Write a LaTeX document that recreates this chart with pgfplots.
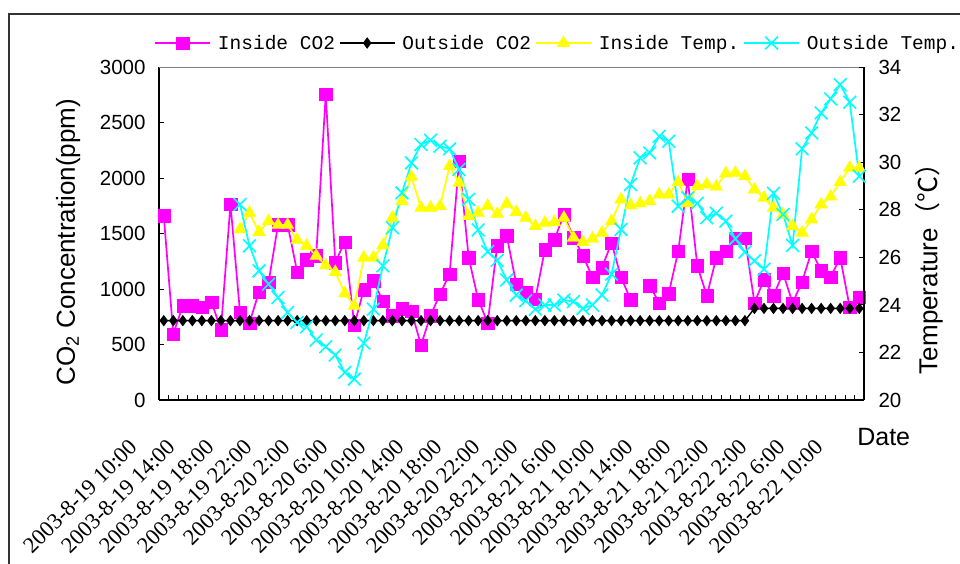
\documentclass[border=0pt]{standalone}
\usepackage{fontspec}
\setmainfont{Liberation Sans}
\newfontfamily\cjk{Noto Sans CJK SC}
\newfontfamily\legfont{Liberation Mono}
\newfontfamily\seriffont{Liberation Serif}
\usepackage{pgfplots}
\pgfplotsset{compat=1.18}
\usepackage{pgfplotstable}

\definecolor{mag}{RGB}{255,0,255}
\definecolor{yel}{RGB}{255,255,0}
\definecolor{cya}{RGB}{0,255,255}

\pgfplotstableread{
x y
0 1660
1 595
2 850
3 850
4 835
5 885
6 635
7 1765
8 790
9 695
10 975
11 1060
12 1580
13 1580
14 1155
15 1265
16 1300
17 2755
18 1240
19 1425
20 675
21 995
22 1075
23 890
24 760
25 825
26 800
27 495
28 760
29 955
30 1135
31 2150
32 1285
33 905
34 695
35 1390
36 1480
37 1045
38 975
39 910
40 1355
41 1445
42 1670
43 1465
44 1300
45 1105
46 1195
47 1415
48 1105
49 905
50 nan
51 1030
52 875
53 960
54 1340
55 1990
56 1210
57 940
58 1285
59 1340
60 1460
61 1460
62 875
63 1085
64 940
65 1145
66 875
67 1065
68 1340
69 1165
70 1105
71 1285
72 835
73 925
}\insideco

\pgfplotstableread{
x y
0 715
1 715
2 715
3 715
4 715
5 715
6 715
7 715
8 715
9 715
10 715
11 715
12 715
13 715
14 715
15 715
16 715
17 715
18 715
19 715
20 715
21 715
22 715
23 715
24 715
25 715
26 715
27 715
28 715
29 715
30 715
31 715
32 715
33 715
34 715
35 715
36 715
37 715
38 715
39 715
40 715
41 715
42 715
43 715
44 715
45 715
46 715
47 715
48 715
49 715
50 715
51 715
52 715
53 715
54 715
55 715
56 715
57 715
58 715
59 715
60 715
61 715
62 825
63 825
64 825
65 825
66 825
67 825
68 825
69 825
70 825
71 825
72 825
73 825
}\outsideco

\pgfplotstableread{
x y
8 27.17
9 27.87
10 27.06
11 27.52
12 27.36
13 27.36
14 26.73
15 26.48
16 26.06
17 25.66
18 25.38
19 24.48
20 23.96
21 25.99
22 25.99
23 26.50
24 27.66
25 28.36
26 29.38
27 28.08
28 28.08
29 28.15
30 29.83
31 29.13
32 27.73
33 27.87
34 28.16
35 27.82
36 28.25
37 27.90
38 27.66
39 27.31
40 27.45
41 27.48
42 27.66
43 26.83
44 26.64
45 26.78
46 27.03
47 27.52
48 28.43
49 28.18
50 28.27
51 28.36
52 28.64
53 28.64
54 29.16
55 28.27
56 28.99
57 29.06
58 28.97
59 29.52
60 29.55
61 29.41
62 28.85
63 28.50
64 28.08
65 27.80
66 27.31
67 27.03
68 27.59
69 28.22
70 28.55
71 29.16
72 29.76
73 29.76
}\insidetemp

\pgfplotstableread{
x y
8 28.22
9 26.48
10 25.43
11 24.87
12 24.31
13 23.68
14 23.26
15 23.08
16 22.52
17 22.24
18 21.89
19 21.16
20 20.88
21 22.39
22 23.82
23 25.64
24 27.24
25 28.71
26 29.97
27 30.74
28 30.92
29 30.67
30 30.56
31 29.69
32 28.43
33 27.15
34 26.24
35 25.87
36 25.05
37 24.41
38 24.17
39 23.82
40 23.99
41 23.99
42 24.20
43 24.14
44 23.85
45 23.99
46 24.41
47 25.29
48 27.17
49 29.06
50 30.18
51 30.39
52 31.09
53 30.88
54 28.15
55 28.50
56 28.27
57 27.66
58 27.85
59 27.52
60 26.78
61 26.22
62 25.85
63 25.50
64 28.69
65 27.80
66 26.50
67 30.56
68 31.23
69 32.07
70 32.66
71 33.26
72 32.52
73 29.41
}\outsidetemp

\pgfplotsset{
  common/.style={
    at={(159pt,164pt)}, anchor=south west,
    scale only axis, width=705pt, height=333pt,
    xmin=-0.5, xmax=73.5,
    clip=false,
    tick align=inside,
    major tick length=5pt, minor tick length=5pt,
    tick style={black, line width=0.9pt},
    axis line style={black, line width=1.3pt},
    /pgf/number format/assume math mode=true,
    /pgf/number format/1000 sep={},
    scaled y ticks=false,
    ticklabel style={font=\fontsize{20.5}{24}\selectfont},
    legend image code/.code={\draw[mark repeat=2,mark phase=2,##1] plot coordinates {(0pt,0pt) (27.5pt,0pt) (55pt,0pt)};},
    unbounded coords=jump,
  },
  s1/.style={color=mag, line width=1.7pt, mark=square*, mark size=6.2pt, mark options={solid, fill=mag, draw=mag, line width=0.1pt}},
  s2/.style={color=black, line width=1.4pt, mark=diamond*, mark size=4.6pt, mark options={solid, fill=black}},
  s3/.style={color=yel, line width=1.7pt, mark=triangle*, mark size=7.5pt, mark options={solid, fill=yel, draw=yel, line width=0.1pt}},
  s4/.style={color=cya, line width=1.7pt, mark=x, mark size=9pt, mark options={solid, line width=1.6pt}},
}

\begin{document}
\begin{tikzpicture}
\useasboundingbox (0,0) rectangle (960pt,564pt);
\draw[line width=1.3pt, black!80] (9pt,-5pt) -- (9pt,550pt) -- (965pt,550pt);

\begin{axis}[common,
  axis x line*=bottom, axis y line*=left,
  major tick length=0pt,
  ymin=0, ymax=3000, ytick={0,500,...,3000},
  minor ytick={0,500,...,3000},
  xtick={0,4,...,72},
  xticklabels={2003-8-19 10:00, 2003-8-19 14:00, 2003-8-19 18:00, 2003-8-19 22:00, 2003-8-20 2:00, 2003-8-20 6:00, 2003-8-20 10:00, 2003-8-20 14:00, 2003-8-20 18:00, 2003-8-20 22:00, 2003-8-21 2:00, 2003-8-21 6:00, 2003-8-21 10:00, 2003-8-21 14:00, 2003-8-21 18:00, 2003-8-21 22:00, 2003-8-22 2:00, 2003-8-22 6:00, 2003-8-22 10:00},
  minor xtick={-0.5,0.5,...,73.5},
  xticklabel style={xshift=-30pt, yshift=-43pt, rotate=45, anchor=east, inner sep=0pt, font=\seriffont\fontsize{22.5}{26}\selectfont},
  yticklabel style={xshift=-10pt},
  ylabel={CO\textsubscript{2} Concentration(ppm)},
  ylabel style={at={(axis description cs:-0.129,0.474)}, anchor=center, font=\fontsize{26}{30}\selectfont},
  xlabel={Date},
  xlabel style={at={(axis description cs:1.028,-0.111)}, anchor=center, font=\fontsize{25}{30}\selectfont},
]
\draw[gray, line width=0.9pt] (rel axis cs:0,1) -- (rel axis cs:1,1);
\addplot[s1] table[x=x,y=y] {\insideco};
\addplot[s2] table[x=x,y=y] {\outsideco};
\end{axis}

\begin{axis}[common,
  hide x axis,
  axis y line*=right,
  ymin=20, ymax=34, ytick={20,22,...,34},
  yticklabel style={xshift=11pt},
  ylabel={Temperature{\cjk （℃）}},
  ylabel style={at={(axis description cs:1.092,0.414)}, anchor=center, font=\fontsize{26}{30}\selectfont},
  legend style={at={(axis description cs:-0.007,1.072)}, anchor=west, draw=none, fill=none,
    legend columns=4, inner sep=0pt, font=\legfont\fontsize{19.5}{22}\selectfont,
    /tikz/every odd column/.append style={column sep=7pt},
    /tikz/every even column/.append style={column sep=4pt},
    nodes={inner sep=0pt}},
  legend cell align=left,
]
\addlegendimage{s1}
\addlegendentry{Inside CO2}
\addlegendimage{s2}
\addlegendentry{Outside CO2}
\addplot[s3] table[x=x,y=y] {\insidetemp};
\addlegendentry{Inside Temp.}
\addplot[s4] table[x=x,y=y] {\outsidetemp};
\addlegendentry{Outside Temp.}
\end{axis}
\end{tikzpicture}
\end{document}
